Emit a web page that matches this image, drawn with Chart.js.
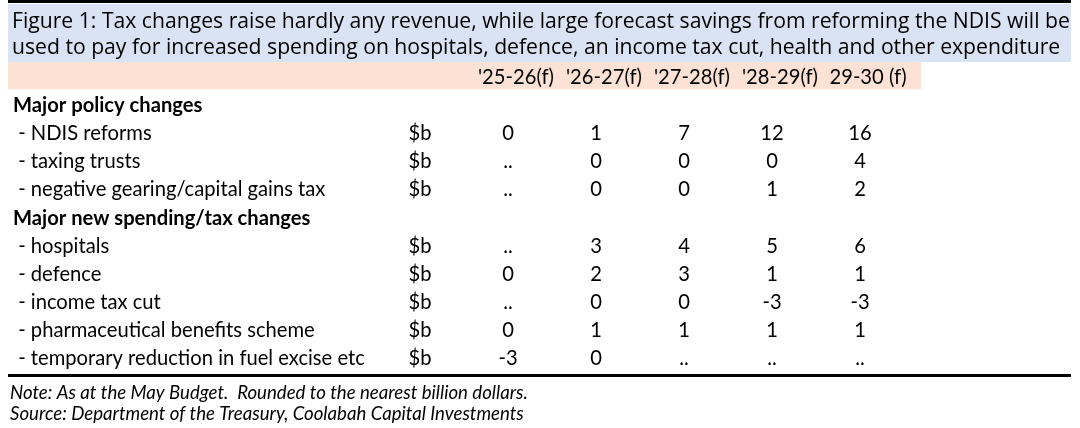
<!DOCTYPE html>
<html>
<head>
<meta charset="utf-8">
<script src="https://cdn.jsdelivr.net/npm/chart.js@4.4.0/dist/chart.umd.min.js"></script>
<style>
    html, body { margin: 0; padding: 0; background: #fff; }
    #wrap { width: 1080px; height: 428px; position: relative; }
</style>
</head>
<body>
<div id="wrap"><canvas id="budgetTable"></canvas></div>
<script>
// Table content
const titleLines = [
    'Figure 1: Tax changes raise hardly any revenue, while large forecast savings from reforming the NDIS will be',
    'used to pay for increased spending on hospitals, defence, an income tax cut, health and other expenditure'
];
const years = ["'25-26(f)", "'26-27(f)", "'27-28(f)", "'28-29(f)", '29-30 (f)'];
const rowLabels = [
    'Major policy changes',
    ' - NDIS reforms',
    ' - taxing trusts',
    ' - negative gearing/capital gains tax',
    'Major new spending/tax changes',
    ' - hospitals',
    ' - defence',
    ' - income tax cut',
    ' - pharmaceutical benefits scheme',
    ' - temporary reduction in fuel excise etc'
];
const unitLabel = '$b';

// values in $b, null = '..'
const ndisReforms   = [0, 1, 7, 12, 16];
const taxingTrusts  = [null, 0, 0, 0, 4];
const negGearing    = [null, 0, 0, 1, 2];
const hospitals     = [null, 3, 4, 5, 6];
const defence       = [0, 2, 3, 1, 1];
const incomeTaxCut  = [null, 0, 0, -3, -3];
const pbs           = [0, 1, 1, 1, 1];
const fuelExcise    = [-3, 0, null, null, null];

// heading rows have no values
const rowValues = [null, ndisReforms, taxingTrusts, negGearing, null,
    hospitals, defence, incomeTaxCut, pbs, fuelExcise];

const notes = [
    'Note: As at the May Budget.  Rounded to the nearest billion dollars.',
    'Source: Department of the Treasury, Coolabah Capital Investments'
];

const xLabels = ['unit', ...years];
const yLabels = ['header', ...rowLabels];

const BODY_FONT = 'Lato, "Noto Sans", sans-serif';
const TITLE_FONT = '"Open Sans", "Noto Sans", sans-serif';

// work out a font size so text spans a given width
function fitSize(ctx, text, style, family, width) {
    ctx.font = `${style} 100px ${family}`;
    return 100 * width / ctx.measureText(text).width;
}

// Build datasets: header row + each data row
const datasets = [{
    label: 'header',
    data: years.map(yr => ({ x: yr, y: 'header', text: yr })),
    shift: 8 // header text sits a little right of the numbers
}];
rowValues.forEach((vals, r) => {
    if (!vals) return;
    const label = rowLabels[r];
    const pts = [{ x: 'unit', y: label, text: unitLabel }];
    vals.forEach((v, i) => {
        pts.push({ x: years[i], y: label, text: v === null ? '..' : String(v) });
    });
    datasets.push({ label: label, data: pts, shift: 0 });
});

const tablePlugin = {
    id: 'tablePlugin',
    beforeDraw(chart) {
        const { ctx, scales: { y } } = chart;
        ctx.save();
        ctx.fillStyle = '#ffffff';
        ctx.fillRect(0, 0, chart.width, chart.height);

        // title band
        ctx.fillStyle = '#dae3f3';
        ctx.fillRect(8, 4, 1063, y.getPixelForValue(-0.5) - 4);

        // header band
        const hTop = y.getPixelForValue(-0.5);
        const hBot = y.getPixelForValue(0.5) - 1;
        ctx.fillStyle = '#fbe2d5';
        ctx.fillRect(8, hTop, 913, hBot - hTop);

        // top rule
        ctx.fillStyle = '#000000';
        ctx.fillRect(8, 0, 1063, 3);
        ctx.restore();
    },
    afterDatasetsDraw(chart) {
        const { ctx, scales: { y } } = chart;
        ctx.save();
        const bodySize = fitSize(ctx, rowLabels[9], '', BODY_FONT, 352);
        ctx.fillStyle = '#000000';
        ctx.textBaseline = 'middle';

        // cells through the scales
        ctx.textAlign = 'center';
        ctx.font = `${bodySize}px ${BODY_FONT}`;
        chart.data.datasets.forEach((ds, i) => {
            const meta = chart.getDatasetMeta(i);
            meta.data.forEach((pt, j) => {
                ctx.fillText(ds.data[j].text, pt.x + ds.shift, pt.y + 1);
            });
        });

        // row labels
        ctx.textAlign = 'left';
        rowLabels.forEach((lbl, r) => {
            const bold = rowValues[r] === null;
            ctx.font = `${bold ? 'bold ' : ''}${bodySize}px ${BODY_FONT}`;
            ctx.fillText(lbl, 13, y.getPixelForValue(r + 1) + 1);
        });

        // title
        const tSize = fitSize(ctx, titleLines[0], '', TITLE_FONT, 1058);
        ctx.font = `${tSize}px ${TITLE_FONT}`;
        ctx.fillText(titleLines[0], 12, 22);
        ctx.fillText(titleLines[1], 12, 48);

        // bottom rule
        const bottom = y.getPixelForValue(yLabels.length - 0.5);
        ctx.fillStyle = '#000000';
        ctx.fillRect(8, bottom + 2, 1063, 3);

        // notes
        const nSize = fitSize(ctx, notes[1], 'italic', BODY_FONT, 514);
        ctx.font = `italic ${nSize}px ${BODY_FONT}`;
        ctx.fillText(notes[0], 10, bottom + 21);
        ctx.fillText(notes[1], 10, bottom + 42);
        ctx.restore();
    }
};

new Chart(document.getElementById('budgetTable'), {
    type: 'scatter',
    data: { datasets: datasets },
    options: {
        responsive: true,
        maintainAspectRatio: false,
        animation: false,
        events: [],
        layout: { padding: { left: 376, right: 176, top: 62, bottom: 56 } },
        elements: { point: { radius: 0, hoverRadius: 0 } },
        scales: {
            x: { type: 'category', labels: xLabels, offset: true, display: false },
            y: { type: 'category', labels: yLabels, offset: true, display: false }
        },
        plugins: {
            legend: { display: false },
            tooltip: { enabled: false }
        }
    },
    plugins: [tablePlugin]
});
</script>
</body>
</html>
